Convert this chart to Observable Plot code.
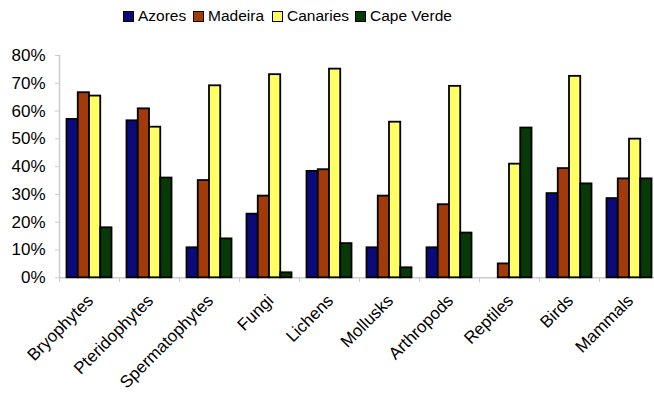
<!DOCTYPE html>
<html>
<head>
<meta charset="utf-8">
<script src="https://cdn.jsdelivr.net/npm/d3@7"></script>
<script src="https://cdn.jsdelivr.net/npm/@observablehq/plot@0.6"></script>
<style>
  body { margin: 0; background: #fff; font-family: "Liberation Sans", Arial, sans-serif; }
  #legend { height: 34px; position: relative; }
  .item { position: absolute; top: 7px; display: flex; align-items: center; font-size: 15.5px; color: #000; }
  .sw { width: 9px; height: 9px; border: 1px solid #000; margin-right: 4px; margin-top: 1px; }
</style>
</head>
<body>
<div id="legend"></div>
<div id="chart"></div>
<script>
const categories = ["Bryophytes", "Pteridophytes", "Spermatophytes", "Fungi", "Lichens", "Mollusks", "Arthropods", "Reptiles", "Birds", "Mammals"];
const seriesNames = ["Azores", "Madeira", "Canaries", "Cape Verde"];
const seriesColors = ["#0a0a7a", "#a33a0a", "#ffff66", "#083a08"];
const azores    = [57.0, 56.5, 10.8, 22.9, 38.3, 10.8, 10.8, 0,    30.3, 28.5];
const madeira   = [66.6, 60.8, 35.0, 29.4, 38.9, 29.4, 26.3, 5.0,  39.3, 35.6];
const canaries  = [65.4, 54.2, 69.1, 73.1, 75.1, 56.0, 68.9, 40.9, 72.5, 49.9];
const capeVerde = [18.0, 35.9, 14.0, 1.8,  12.3, 3.6,  16.1, 53.9, 33.8, 35.6];
const yTicks = [0, 10, 20, 30, 40, 50, 60, 70, 80];
const legendLeft = [123, 193, 272, 355];

const seriesValues = [azores, madeira, canaries, capeVerde];
const rows = categories.map((c, i) => {
  const r = {category: c};
  seriesNames.forEach((s, j) => r[s] = seriesValues[j][i]);
  return r;
});

// legend
const lg = document.getElementById("legend");
seriesNames.forEach((s, j) => {
  const it = document.createElement("div");
  it.className = "item";
  it.style.left = legendLeft[j] + "px";
  const sw = document.createElement("div");
  sw.className = "sw";
  sw.style.background = seriesColors[j];
  const t = document.createElement("span");
  t.textContent = s;
  it.appendChild(sw); it.appendChild(t);
  lg.appendChild(it);
});

const band = 60, groupPad = 7.5, barW = (band - 2 * groupPad) / seriesNames.length;
const bars = seriesNames.map((s, j) => Plot.barY(rows, {
  filter: d => d[s] > 0,
  x: "category",
  y: s,
  fill: seriesColors[j],
  stroke: "black",
  strokeWidth: 1.8,
  insetLeft: groupPad + barW * j,
  insetRight: band - groupPad - barW * (j + 1)
}));

const chart = Plot.plot({
  width: 654,
  height: 361,
  marginLeft: 59,
  marginRight: 0,
  marginTop: 21,
  marginBottom: 117.7,
  style: {fontFamily: "Liberation Sans, Arial, sans-serif", fontSize: "17px", color: "#000", background: "#fff"},
  x: {domain: categories, range: [59, 659], padding: 0, label: null},
  y: {domain: [0, 80], range: [243.3, 21], label: null},
  marks: [
    Plot.frame({anchor: "left", stroke: "#cccccc", strokeWidth: 1.5}),
    Plot.ruleY([0], {stroke: "#cccccc", strokeWidth: 1.5}),
    Plot.axisY({ticks: yTicks, tickFormat: d => d + "%", tickSize: 4, tickPadding: 10, stroke: "#cccccc", fill: "#000", fontSize: 17, label: null}),
    Plot.axisX({tickSize: 5, tickFormat: () => "", dx: -band / 2, stroke: "#cccccc", label: null}),
    Plot.axisX({tickSize: 0, tickPadding: 20, tickRotate: -45, dx: 1, fill: "#000", fontSize: 17, label: null}),
    ...bars
  ]
});
document.getElementById("chart").appendChild(chart);
</script>
</body>
</html>
